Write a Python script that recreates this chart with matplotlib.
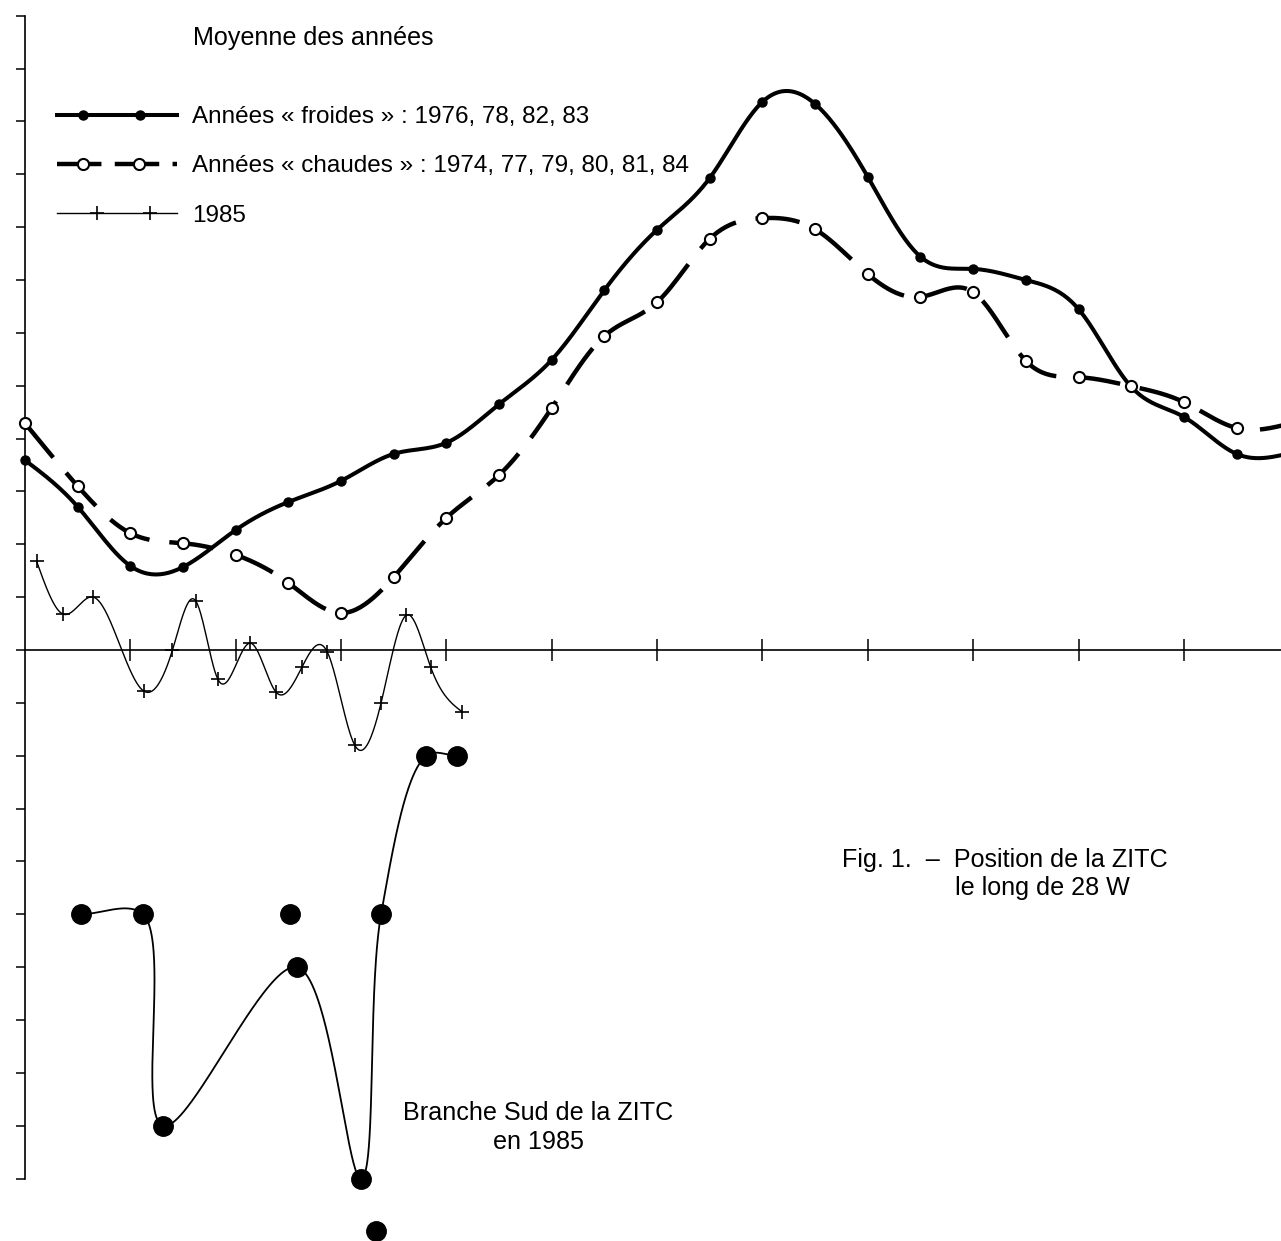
import numpy as np
import matplotlib
matplotlib.use("Agg")
import matplotlib.pyplot as plt
from matplotlib.lines import Line2D
from matplotlib.legend_handler import HandlerLine2D

# ---------------- data (months along x, latitude-like units along y) -------------
months_mean = [0.0, 0.5, 1.0, 1.5, 2.0, 2.5, 3.0, 3.5, 4.0, 4.5, 5.0, 5.5, 6.0,
               6.5, 7.0, 7.5, 8.0, 8.5, 9.0, 9.5, 10.0, 10.5, 11.0, 11.5, 12.0]
cold_years = [3.59, 2.71, 1.59, 1.57, 2.27, 2.80, 3.20, 3.71, 3.92, 4.65, 5.49, 6.81, 7.95,
              8.93, 10.37, 10.33, 8.95, 7.44, 7.21, 7.00, 6.45, 4.98, 4.41, 3.71, 3.72]
warm_years = [4.29, 3.10, 2.21, 2.02, 1.80, 1.27, 0.70, 1.38, 2.50, 3.31, 4.58, 5.94, 6.58,
              7.78, 8.17, 7.96, 7.11, 6.68, 6.77, 5.47, 5.16, 4.99, 4.69, 4.20, 4.28]

months_1985 = [0.11, 0.36, 0.65, 1.13, 1.40, 1.62, 1.83, 2.14, 2.38, 2.63, 2.87,
               3.13, 3.38, 3.62, 3.85, 4.15]
values_1985 = [1.68, 0.68, 1.00, -0.78, 0.00, 0.93, -0.55, 0.13, -0.79, -0.32, -0.04,
               -1.80, -1.00, 0.66, -0.32, -1.17]

# southern branch of the ITCZ in 1985 (points joined by the curve)
months_south = [0.53, 1.12, 1.31, 2.58, 3.19, 3.38, 3.81, 4.10]
values_south = [-5.0, -5.0, -9.0, -6.0, -10.0, -5.0, -2.0, -2.0]
# isolated southern-branch points
months_south_iso = [2.52, 3.33]
values_south_iso = [-5.0, -11.0]

y_ticks = list(range(-10, 13))
x_ticks = list(range(1, 12))

legend_title = "Moyenne des années"
label_cold = "Années « froides » : 1976, 78, 82, 83"
label_warm = "Années « chaudes » : 1974, 77, 79, 80, 81, 84"
label_1985 = "1985"


# ---------------- smoothing helpers (drawing only) ----------------
def natural_spline(x, y, n=600):
    x = np.asarray(x, float)
    y = np.asarray(y, float)
    m = len(x)
    h = np.diff(x)
    A = np.zeros((m, m))
    r = np.zeros(m)
    A[0, 0] = 1.0
    A[-1, -1] = 1.0
    for i in range(1, m - 1):
        A[i, i - 1] = h[i - 1]
        A[i, i] = 2 * (h[i - 1] + h[i])
        A[i, i + 1] = h[i]
        r[i] = 3 * ((y[i + 1] - y[i]) / h[i] - (y[i] - y[i - 1]) / h[i - 1])
    c = np.linalg.solve(A, r)
    b = np.diff(y) / h - h * (2 * c[:-1] + c[1:]) / 3
    d = np.diff(c) / (3 * h)
    xs = np.linspace(x[0], x[-1], n)
    idx = np.clip(np.searchsorted(x, xs) - 1, 0, m - 2)
    dx = xs - x[idx]
    ys = y[idx] + b[idx] * dx + c[idx] * dx ** 2 + d[idx] * dx ** 3
    return xs, ys


def catmull_rom(x, y, sx=1.0, sy=1.0, n=80, alpha=0.5):
    P = np.column_stack([np.asarray(x, float) * sx, np.asarray(y, float) * sy])
    P = np.vstack([2 * P[0] - P[1], P, 2 * P[-1] - P[-2]])
    out = []
    for i in range(1, len(P) - 2):
        p0, p1, p2, p3 = P[i - 1], P[i], P[i + 1], P[i + 2]
        t0 = 0.0
        t1 = t0 + np.linalg.norm(p1 - p0) ** alpha
        t2 = t1 + np.linalg.norm(p2 - p1) ** alpha
        t3 = t2 + np.linalg.norm(p3 - p2) ** alpha
        t = np.linspace(t1, t2, n)[:, None]
        A1 = (t1 - t) / (t1 - t0) * p0 + (t - t0) / (t1 - t0) * p1
        A2 = (t2 - t) / (t2 - t1) * p1 + (t - t1) / (t2 - t1) * p2
        A3 = (t3 - t) / (t3 - t2) * p2 + (t - t2) / (t3 - t2) * p3
        B1 = (t2 - t) / (t2 - t0) * A1 + (t - t0) / (t2 - t0) * A2
        B2 = (t3 - t) / (t3 - t1) * A2 + (t - t1) / (t3 - t1) * A3
        C = (t2 - t) / (t2 - t1) * B1 + (t - t1) / (t2 - t1) * B2
        out.append(C)
    C = np.vstack(out)
    return C[:, 0] / sx, C[:, 1] / sy


class TwoMarkerHandler(HandlerLine2D):
    def __init__(self, fracs, **kw):
        super().__init__(**kw)
        self.fracs = list(fracs)

    def create_artists(self, legend, orig_handle, xdescent, ydescent,
                       width, height, fontsize, trans):
        fr = [0.0] + self.fracs + [1.0]
        x = np.array([-xdescent + width * f for f in fr])
        y = np.full_like(x, (height - ydescent) / 2)
        line = Line2D(x, y)
        self.update_prop(line, orig_handle, legend)
        line.set_markevery(list(range(1, len(fr) - 1)))
        line.set_transform(trans)
        return [line]


# ---------------- figure ----------------
W, H = 1281, 1241
fig = plt.figure(figsize=(W / 100, H / 100), dpi=100)
ax = fig.add_axes([0, 0, 1, 1])

px_month = 105.35
px_unit = 52.86
x0_px, y0_px = 25, 650
ax.set_xlim(-x0_px / px_month, (W - x0_px) / px_month)
ax.set_ylim(-(H - y0_px) / px_unit, y0_px / px_unit)

FONT = ['Liberation Sans', 'DejaVu Sans']
FS = 17.5
FS2 = 18.1

# axes
for s in ['top', 'right']:
    ax.spines[s].set_visible(False)
ax.spines['left'].set_position(('data', 0))
ax.spines['bottom'].set_position(('data', 0))
ax.spines['left'].set_bounds(-10, 12)
ax.spines['bottom'].set_bounds(0, (W - x0_px) / px_month)
ax.spines['left'].set_linewidth(1.2)
ax.spines['bottom'].set_linewidth(1.2)
ax.set_yticks(y_ticks)
ax.set_xticks(x_ticks)
ax.tick_params(axis='y', direction='out', length=6.5, width=1.1,
               labelleft=False)
ax.tick_params(axis='x', direction='inout', length=16, width=1.1,
               labelbottom=False)

# cold years
xs, ys = natural_spline(months_mean, cold_years)
ax.plot(xs, ys, color='black', lw=2.9, solid_capstyle='round', zorder=3)
ax.plot(months_mean, cold_years, 'o', color='black', ms=6.5, zorder=4)

# warm years
xs, ys = natural_spline(months_mean, warm_years)
ax.plot(xs, ys, color='black', lw=3.2, linestyle=(0, (10, 4.5)), zorder=3)
ax.plot(months_mean, warm_years, 'o', mfc='white', mec='black', mew=1.5,
        ms=8, zorder=4)

# 1985
xs, ys = natural_spline(months_1985, values_1985)
ax.plot(xs, ys, color='black', lw=1.0, zorder=3)
ax.plot(months_1985, values_1985, '+', color='black', ms=10, mew=1.2, zorder=4)

# southern branch 1985
xs, ys = catmull_rom(months_south, values_south, sx=px_month, sy=px_unit)
ax.plot(xs, ys, color='black', lw=1.3, zorder=3)
ax.plot(months_south, values_south, 'o', color='black', ms=14, zorder=4,
        clip_on=False)
ax.plot(months_south_iso, values_south_iso, 'o', color='black', ms=14,
        zorder=4, clip_on=False)

# legend
h_cold = Line2D([], [], color='black', lw=2.9, marker='o', ms=6.5)
h_warm = Line2D([], [], color='black', lw=3.2, linestyle=(0, (10, 3)),
                marker='o', mfc='white', mec='black', mew=1.5, ms=8)
h_85 = Line2D([], [], color='black', lw=1.0, marker='+', ms=10, mew=1.2)
leg = ax.legend([h_cold, h_warm, h_85], [label_cold, label_warm, label_1985],
                loc='upper left', bbox_to_anchor=(57 / W, 1 - 106 / H),
                bbox_transform=fig.transFigure, frameon=False,
                borderpad=0, borderaxespad=0, handlelength=4.95,
                handletextpad=0.62, labelspacing=1.13,
                prop={'family': FONT, 'size': FS},
                handler_map={h_cold: TwoMarkerHandler([0.215, 0.686]),
                             h_warm: TwoMarkerHandler([0.215, 0.68]),
                             h_85: TwoMarkerHandler([0.33, 0.77])})

fig.text(193 / W, 1 - 38 / H, legend_title, family=FONT, size=FS2,
         ha='left', va='center')

fig.text(842 / W, 1 - 860 / H, "Fig. 1.  –  Position de la ZITC", family=FONT,
         size=FS2, ha='left', va='center')
fig.text(955 / W, 1 - 888 / H, "le long de 28 W", family=FONT, size=FS2,
         ha='left', va='center')
fig.text(538 / W, 1 - 1113 / H, "Branche Sud de la ZITC", family=FONT,
         size=FS2, ha='center', va='center')
fig.text(538 / W, 1 - 1142 / H, "en 1985", family=FONT, size=FS2,
         ha='center', va='center')

fig.savefig("out.png", dpi=100, facecolor='white')
